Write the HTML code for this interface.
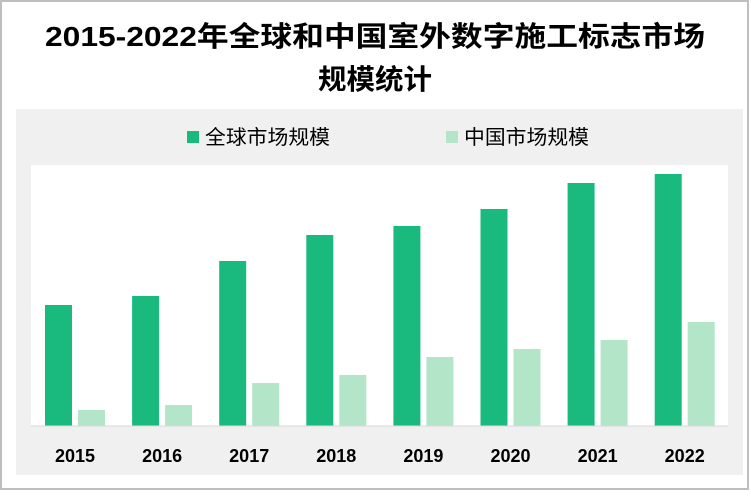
<!DOCTYPE html>
<html><head><meta charset="utf-8"><style>
body{margin:0;width:751px;height:492px;background:#fff;font-family:"Liberation Sans","Noto Sans CJK SC",sans-serif;overflow:hidden}
</style></head><body>
<svg width="751" height="492" viewBox="0 0 751 492">
<rect x="1" y="1" width="747" height="488" fill="#fff" stroke="#bfbfbf" stroke-width="2"/>
<text x="375" y="46" text-anchor="middle" font-size="28" font-weight="bold" fill="#000" textLength="660" lengthAdjust="spacingAndGlyphs">2015-2022年全球和中国室外数字施工标志市场</text>
<text x="375" y="89" text-anchor="middle" font-size="28" font-weight="bold" fill="#000" textLength="114" lengthAdjust="spacingAndGlyphs">规模统计</text>
<rect x="16" y="109" width="727" height="366" fill="#f0f0f0"/>
<rect x="31" y="165" width="697" height="261" fill="#fff"/>
<g>
<rect x="187" y="131" width="12" height="12" fill="#1aba7f"/>
<text x="205" y="144" font-size="20" fill="#000" textLength="125" lengthAdjust="spacingAndGlyphs">全球市场规模</text>
<rect x="446" y="131" width="12" height="12" fill="#b3e5c8"/>
<text x="464" y="144" font-size="20" fill="#000" textLength="125" lengthAdjust="spacingAndGlyphs">中国市场规模</text>
</g>
<g id="bars"></g>
<line x1="31" y1="426" x2="728" y2="426" stroke="#d9d9d9"/>
<g id="labels"></g>
</svg>
<script>
const categories=["2015","2016","2017","2018","2019","2020","2021","2022"];
const globalValues=[121,130,165,191,200,217,243,252];
const chinaValues=[16,21,43,51,69,77,86,104];
const NS="http://www.w3.org/2000/svg";
const baseY=426, x0=45, pitch=87.1, bw=27;
function yScale(v){return baseY-v;}
const bars=document.getElementById('bars'), labels=document.getElementById('labels');
categories.forEach((c,i)=>{
  const gx=x0+i*pitch;
  const g=document.createElementNS(NS,'rect');
  g.setAttribute('x',gx);g.setAttribute('width',bw);
  g.setAttribute('y',yScale(globalValues[i]));g.setAttribute('height',baseY-yScale(globalValues[i]));
  g.setAttribute('fill','#1aba7f');
  
  
  bars.appendChild(g);
  const h=document.createElementNS(NS,'rect');
  h.setAttribute('x',gx+33);h.setAttribute('width',bw);
  h.setAttribute('y',yScale(chinaValues[i]));h.setAttribute('height',baseY-yScale(chinaValues[i]));
  h.setAttribute('fill','#b3e5c8');
  
  
  bars.appendChild(h);
  const t=document.createElementNS(NS,'text');
  t.setAttribute('x',gx+30);t.setAttribute('y',462);
  t.setAttribute('text-anchor','middle');t.setAttribute('font-size','18');t.setAttribute('font-weight','bold');
  t.textContent=c;
  
  
  labels.appendChild(t);
});
</script>
</body></html>
